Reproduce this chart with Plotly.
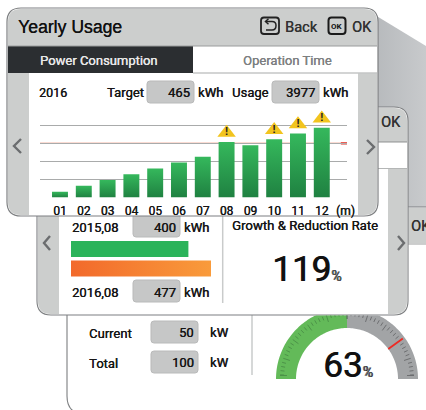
import numpy as np
import plotly.graph_objects as go

W, H = 426, 410

# ---- data ----
months = ["01", "02", "03", "04", "05", "06", "07", "08", "09", "10", "11", "12"]
monthly_usage = [50, 100, 150, 200, 250, 300, 350, 477, 450, 500, 550, 600]
target = 465
total_usage = 3977
warning_months = ["08", "10", "11", "12"]
grid_levels = [155, 310, 465, 620]
compare_labels = ["2015,08", "2016,08"]
compare_values = [400, 477]
growth_rate = 119
current_kw = 50
total_kw = 100
gauge_green = 50
gauge_gray = 50
gauge_needle = 80
gauge_percent = 63

FONT = "Roboto"
TEXT = "#161616"
STRIP = "#cccecd"
BORDER = "#7d7f81"


def fx(x):
    return x / W


def fy(y):
    return 1 - y / H


def pt(x, y):
    return f"{fx(x):.5f} {fy(y):.5f}"


def rpath(x0, y0, x1, y1, r=(0, 0, 0, 0)):
    tl, tr, br, bl = r
    return (f"M {pt(x0 + tl, y0)} L {pt(x1 - tr, y0)} Q {pt(x1, y0)} {pt(x1, y0 + tr)} "
            f"L {pt(x1, y1 - br)} Q {pt(x1, y1)} {pt(x1 - br, y1)} "
            f"L {pt(x0 + bl, y1)} Q {pt(x0, y1)} {pt(x0, y1 - bl)} "
            f"L {pt(x0, y0 + tl)} Q {pt(x0, y0)} {pt(x0 + tl, y0)} Z")


shapes = []


def box(x0, y0, x1, y1, fill, r=(0, 0, 0, 0), line=None, lw=0):
    shapes.append(dict(type="path", xref="paper", yref="paper", layer="below",
                       path=rpath(x0, y0, x1, y1, r), fillcolor=fill,
                       line=dict(color=line or "rgba(0,0,0,0)", width=lw)))


def stroke(points, color, lw, layer="below"):
    d = "M " + " L ".join(pt(*p) for p in points)
    shapes.append(dict(type="path", xref="paper", yref="paper", layer=layer, path=d,
                       line=dict(color=color, width=lw)))


def curve(d, color, lw):
    shapes.append(dict(type="path", xref="paper", yref="paper", layer="below", path=d,
                       line=dict(color=color, width=lw)))


def valuebox(x0, y0, x1, y1):
    box(x0, y0, x1, y1, "#c6c7c7", (3, 3, 3, 3), "#b9baba", 1)


# far back slanted panel
shapes.append(dict(type="path", xref="paper", yref="paper", layer="below",
                   path=f"M {pt(370, 12)} L {pt(426, 46)} L {pt(426, 215)} L {pt(370, 215)} Z",
                   fillcolor="#bdc0c3", line=dict(width=0)))

# third panel
box(67, 207, 470, 414, "#ffffff", (14, 14, 14, 18), BORDER, 1.1)
box(68, 208, 426, 243, STRIP)
stroke([(400, 244), (426, 244)], "#9a9c9c", 1)
stroke([(252, 315), (252, 375)], "#c9cbcb", 1.5)
valuebox(151, 321, 198, 343)
valuebox(151, 351, 198, 373)

# middle panel
box(37, 107, 408, 315, "#ffffff", (14, 14, 14, 14), BORDER, 1.1)
box(38, 108, 407, 142, STRIP, (13, 13, 0, 0))
box(38, 169, 59, 314, STRIP, (0, 0, 0, 13))
box(388, 169, 407, 314, STRIP, (0, 0, 13, 0))
stroke([(38, 142), (407, 142)], "#8f9191", 1)
stroke([(59, 168.5), (407, 168.5)], "#b4b6b6", 1)
stroke([(222.7, 216), (222.7, 303)], "#c9cbcb", 1.5)
valuebox(133, 203, 180, 237)
valuebox(133, 280, 180, 302)

# top panel
box(7, 8, 378, 216, "#ffffff", (14, 14, 14, 14), BORDER, 1.2)
box(8, 9, 377, 46, STRIP, (13, 13, 0, 0))
box(8, 46, 193, 73, "#2b2e31")
box(8, 73, 29, 215, STRIP, (0, 0, 0, 13))
box(358, 73, 377, 215, STRIP, (0, 0, 13, 0))
stroke([(8, 46), (377, 46)], "#9a9c9c", 1)
stroke([(193, 73), (377, 73)], "#c4c6c6", 1.5)
valuebox(147, 81, 194, 103)
valuebox(272, 81, 319, 103)

# header icons
box(261, 17.5, 279, 34, "rgba(0,0,0,0)", (3, 3, 3, 3), "#222222", 1.8)
curve(f"M {pt(266, 21.5)} L {pt(272, 21.5)} Q {pt(276, 21.5)} {pt(276, 25.5)} "
      f"Q {pt(276, 30)} {pt(272, 30)} L {pt(266, 30)}", "#222222", 1.5)
curve(f"M {pt(268.5, 18.8)} L {pt(265.5, 21.5)} L {pt(268.5, 24.2)}", "#222222", 1.5)
box(328.5, 17.5, 345.5, 34, "rgba(0,0,0,0)", (3, 3, 3, 3), "#1a1a1a", 2)

# chevrons
for (a, b, c) in [
    ((21, 139), (14, 146), (21, 153)),
    ((367, 140), (374, 147), (367, 154)),
    ((50, 236), (44, 243), (50, 250)),
    ((398, 236), (404, 243), (398, 250)),
]:
    stroke([a, b, c], "#6b6d6f", 2.4)

# target line
PLOT_L, PLOT_R, PLOT_B, PLOT_T = 40, 347, 197.5, 105
shapes.append(dict(type="line", xref="x domain", yref="y", x0=0, x1=1, y0=target, y1=target,
                   layer="below", line=dict(color="#f0704f", width=1.2)))
shapes.append(dict(type="line", xref="x domain", yref="y", x0=0.98, x1=1, y0=target, y1=target,
                   layer="below", line=dict(color="#e8322a", width=2.2)))

fig = go.Figure()

# monthly bars
fig.add_trace(go.Bar(x=months, y=monthly_usage, marker=dict(color="#2aa052", line=dict(width=0)),
                     width=0.67, xaxis="x", yaxis="y", hoverinfo="skip"))
warn_y = [monthly_usage[months.index(m)] + 80 for m in warning_months]
fig.add_trace(go.Scatter(x=warning_months, y=warn_y, mode="markers+text",
                         marker=dict(symbol="triangle-up", size=16, color="#f2c41e",
                                     line=dict(width=0)),
                         text=["<b>!</b>"] * len(warning_months), textposition="middle center",
                         textfont=dict(size=11, color="#222222", family="Liberation Sans"),
                         xaxis="x", yaxis="y", hoverinfo="skip", cliponaxis=False))

# comparison bars
fig.add_trace(go.Bar(y=compare_labels, x=compare_values, orientation="h", width=0.82,
                     marker=dict(color=["#2bb35a", "#f4802f"], line=dict(width=0)),
                     xaxis="x2", yaxis="y2", hoverinfo="skip"))

# gauge (units: radius 71 ~ pixels)
R_OUT, R_IN = 71, 51


def arc(p0, p1):
    t = np.radians(180 - np.linspace(p0, p1, 60) * 1.8)
    xo, yo = R_OUT * np.cos(t), R_OUT * np.sin(t)
    xi, yi = R_IN * np.cos(t[::-1]), R_IN * np.sin(t[::-1])
    return np.r_[xo, xi, xo[0]], np.r_[yo, yi, yo[0]]


gx, gy = arc(0, gauge_green)
fig.add_trace(go.Scatter(x=gx, y=gy, fill="toself", fillcolor="#63ba59", mode="none",
                         xaxis="x3", yaxis="y3", hoverinfo="skip"))
gx, gy = arc(gauge_green, gauge_green + gauge_gray)
fig.add_trace(go.Scatter(x=gx, y=gy, fill="toself", fillcolor="#a2a4a6", mode="none",
                         xaxis="x3", yaxis="y3", hoverinfo="skip"))


def tick_segments(start, stop):
    xs, ys = [], []
    for i in range(start, stop + 1):
        t = np.radians(180 - (i * 2) * 1.8)
        r0 = 60 if i % 5 == 0 else 63
        xs += [r0 * np.cos(t), 67 * np.cos(t), None]
        ys += [max(r0 * np.sin(t), 3.5), max(67 * np.sin(t), 3.5), None]
    return xs, ys


tx, ty = tick_segments(0, 25)
fig.add_trace(go.Scatter(x=tx, y=ty, mode="lines", line=dict(color="#4a8f46", width=0.9),
                         xaxis="x3", yaxis="y3", hoverinfo="skip"))
tx, ty = tick_segments(25, 50)
fig.add_trace(go.Scatter(x=tx, y=ty, mode="lines", line=dict(color="#68696b", width=0.9),
                         xaxis="x3", yaxis="y3", hoverinfo="skip"))
nt = np.radians(180 - gauge_needle * 1.8)
fig.add_trace(go.Scatter(x=[R_IN * np.cos(nt), (R_OUT - 2) * np.cos(nt)],
                         y=[R_IN * np.sin(nt), (R_OUT - 2) * np.sin(nt)],
                         mode="lines", line=dict(color="#ee2a24", width=1.8),
                         xaxis="x3", yaxis="y3", hoverinfo="skip"))

annotations = []


def label(x, y, text, size=12.5, color=TEXT, anchor="left", family=FONT, bold=False, thick=0.3):
    annotations.append(dict(x=fx(x), y=fy(y), xref="paper", yref="paper", text=f"<b>{text}</b>" if bold else text,
                            showarrow=False, xanchor=anchor, yanchor="middle", borderpad=0,
                            font=dict(size=size, color=color, family=family,
                                      shadow=f"{thick}px 0 0 {color}" if thick else "none")))


pct = "<span style='font-size:14px;color:#555555'>%</span>"

label(17, 27, "Yearly Usage", 17.6, "#111111", family="Liberation Sans")
label(284, 27, "Back", 14.6, "#333333")
label(337, 26, "OK", 8, "#111111", "center", bold=True, thick=0)
label(351, 27, "OK", 14.6, "#333333")
label(98, 60.5, "Power Consumption", 13, "#e8e8e8", "center")
label(287, 60.5, "Operation Time", 13, "#7d7f81", "center")
label(38, 93, "2016", 12.5)
label(106, 93, "Target", 13)
label(191, 92.5, str(target), 13, anchor="right")
label(197, 93, "kWh", 13)
label(231, 93, "Usage", 13)
label(316, 92.5, str(total_usage), 13, anchor="right")
label(322, 93, "kWh", 13)
label(335, 211, "(m)", 12)

label(380, 122, "OK", 14.6, "#333333")
label(410, 226, "OK", 14.6, "#333333")

label(71, 227, compare_labels[0], 13)
label(177, 227, str(compare_values[0]), 13, anchor="right")
label(183, 227, "kWh", 13)
label(71, 292, compare_labels[1], 13)
label(177, 292, str(compare_values[1]), 13, anchor="right")
label(183, 292, "kWh", 13)
label(231, 225, "Growth &amp; Reduction Rate", 13.2)
label(271, 269, f"{growth_rate}{pct}", 35, "#111111", thick=0.8)

label(88, 333, "Current", 13)
label(88, 363, "Total", 13)
label(195, 332, str(current_kw), 13, anchor="right")
label(195, 362, str(total_kw), 13, anchor="right")
label(209, 332, "kW", 13)
label(209, 362, "kW", 13)
label(322, 365, f"{gauge_percent}{pct}", 35, "#111111", thick=0.8)

# comparison axis geometry
CMP_L, CMP_R, CMP_T, CMP_B = 71, 211, 239.3, 278.2
G_L, G_R, G_T, G_B = 276, 418, 315.5, 380

fig.update_layout(
    width=W, height=H, autosize=False, showlegend=False, barmode="overlay",
    margin=dict(l=0, r=0, t=0, b=0), paper_bgcolor="#ffffff", plot_bgcolor="rgba(0,0,0,0)",
    shapes=shapes, annotations=annotations,
    font=dict(family=FONT, color=TEXT),
    xaxis=dict(domain=[fx(PLOT_L), fx(PLOT_R)], type="category", categoryorder="array",
               categoryarray=months, range=[-0.84, 12.06], showgrid=False, zeroline=False,
               tickfont=dict(size=12, color=TEXT, family=FONT, shadow=f"0.3px 0 0 {TEXT}"),
               ticks="", ticklabelstandoff=4,
               showline=False, anchor="y", fixedrange=True),
    yaxis=dict(domain=[fy(PLOT_B), fy(PLOT_T)], range=[0, 795], tickvals=[0] + grid_levels,
               showticklabels=False, ticks="", gridcolor="#a9abab", gridwidth=1.2,
               zeroline=False, showline=False, anchor="x", fixedrange=True),
    xaxis2=dict(domain=[fx(CMP_L), fx(CMP_R)], range=[0, compare_values[1]], visible=False,
                anchor="y2", fixedrange=True),
    yaxis2=dict(domain=[fy(CMP_B), fy(CMP_T)], type="category", categoryorder="array",
                categoryarray=compare_labels, range=[1.5, -0.5], visible=False, anchor="x2",
                fixedrange=True),
    xaxis3=dict(domain=[fx(G_L), fx(G_R)], range=[-71, 71], visible=False, anchor="y3",
                fixedrange=True),
    yaxis3=dict(domain=[fy(G_B), fy(G_T)], range=[-1, G_B - G_T - 1], visible=False, anchor="x3",
                fixedrange=True),
)

post = """
document.body.style.margin = '0';
document.documentElement.style.overflow = 'hidden';
var svg = document.querySelector('.main-svg');
var ns = 'http://www.w3.org/2000/svg';
var defs = svg.querySelector('defs');
function grad(id, x2, y2, stops) {
  var g = document.createElementNS(ns, 'linearGradient');
  g.setAttribute('id', id);
  g.setAttribute('x1', '0'); g.setAttribute('y1', '0');
  g.setAttribute('x2', x2); g.setAttribute('y2', y2);
  stops.forEach(function (s) {
    var st = document.createElementNS(ns, 'stop');
    st.setAttribute('offset', s[0]);
    st.setAttribute('stop-color', s[1]);
    g.appendChild(st);
  });
  defs.appendChild(g);
}
grad('gbar', '0', '1', [['0', '#35b85c'], ['1', '#1f8141']]);
grad('gorg', '1', '0', [['0', '#f2692b'], ['1', '#f99b3b']]);
grad('gback', '1', '0', [['0', '#b5b8bb'], ['1', '#c8cacc']]);
var traces = document.querySelectorAll('.barlayer .trace');
traces[0].querySelectorAll('.point path').forEach(function (p) { p.style.fill = 'url(#gbar)'; });
var pts = traces[1].querySelectorAll('.point path');
pts[1].style.fill = 'url(#gorg)';
document.querySelectorAll('.shapelayer path').forEach(function (p) {
  if (p.style.fill && p.style.fill.indexOf('189, 192, 195') >= 0) p.style.fill = 'url(#gback)';
});
"""

fig.write_html("out.html", post_script=post, config=dict(displayModeBar=False))
